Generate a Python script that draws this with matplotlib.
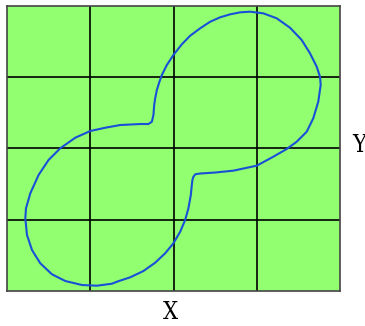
import matplotlib
matplotlib.use('Agg')
import matplotlib.pyplot as plt

# grid cells (4 x 4) and the closed curve in cell units
grid_x = [1, 2, 3]
grid_y = [1, 2, 3]

curve_x = [1.600, 1.699, 1.740, 1.759, 1.768, 1.780, 1.800, 1.831, 1.860, 1.920,
           1.999, 2.100, 2.200, 2.320, 2.440, 2.560, 2.680, 2.800, 2.920, 3.079,
           3.240, 3.400, 3.540, 3.640, 3.720, 3.760, 3.768, 3.739, 3.679, 3.600,
           3.480, 3.360, 3.199, 3.000, 2.719, 2.500, 2.320, 2.263, 2.239, 2.227,
           2.220, 2.208, 2.179, 2.140, 2.080, 1.999, 1.900, 1.780, 1.639, 1.480,
           1.320, 1.260, 1.080, 0.900, 0.700, 0.540, 0.400, 0.300, 0.240, 0.220,
           0.228, 0.280, 0.379, 0.499, 0.640, 0.820, 1.000, 1.180, 1.360, 1.600]
curve_y = [2.341, 2.341, 2.373, 2.467, 2.608, 2.702, 2.818, 2.934, 3.028, 3.168,
           3.309, 3.459, 3.579, 3.683, 3.775, 3.837, 3.879, 3.907, 3.916, 3.893,
           3.823, 3.691, 3.519, 3.332, 3.145, 3.004, 2.888, 2.654, 2.421, 2.233,
           2.093, 1.991, 1.883, 1.757, 1.687, 1.661, 1.647, 1.637, 1.602, 1.556,
           1.486, 1.346, 1.159, 0.995, 0.831, 0.669, 0.529, 0.397, 0.280, 0.192,
           0.130, 0.102, 0.074, 0.084, 0.140, 0.234, 0.388, 0.575, 0.785, 1.019,
           1.159, 1.370, 1.626, 1.837, 2.001, 2.149, 2.243, 2.289, 2.327, 2.341]

fig = plt.figure(figsize=(3.65, 3.26), dpi=100)
ax = fig.add_axes([0.0192, 0.1074, 0.9123, 0.8751])
ax.set_facecolor('#91ff6f')
ax.set_xlim(0, 4)
ax.set_ylim(0, 4)

for gx in grid_x:
    ax.axvline(gx, color='black', lw=1.2)
for gy in grid_y:
    ax.axhline(gy, color='black', lw=1.2)

ax.plot(curve_x, curve_y, color='#1a4fd8', lw=1.5,
        solid_joinstyle='round', solid_capstyle='round')

ax.set_xticks([])
ax.set_yticks([])
for s in ax.spines.values():
    s.set_color('#444444')
    s.set_linewidth(1.2)

fig.text(0.466, 0.040, 'X', ha='center', va='center', family='DejaVu Serif',
         fontstretch='condensed', fontsize=17)
fig.text(0.983, 0.553, 'Y', ha='center', va='center', family='DejaVu Serif',
         fontstretch='condensed', fontsize=17)

fig.savefig('out.png', dpi=100)
